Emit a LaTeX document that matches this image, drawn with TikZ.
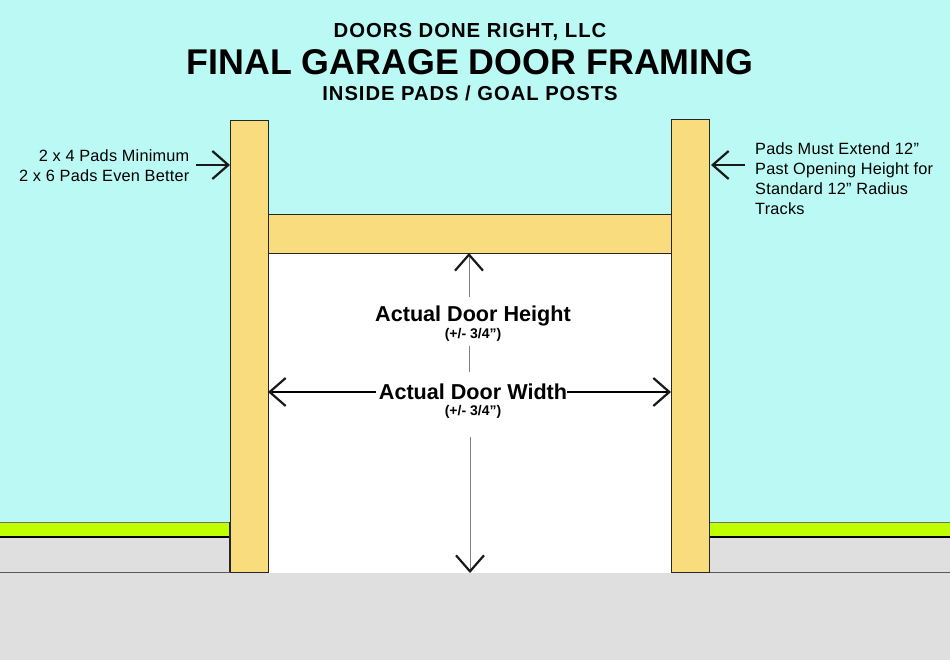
\documentclass[tikz,border=0pt]{standalone}
\usepackage{fontspec}
\setmainfont{Liberation Sans}
\usetikzlibrary{arrows.meta,positioning}
\definecolor{SkyBlue}{HTML}{BAF9F4}
\definecolor{PadYellow}{HTML}{F8DC7E}
\definecolor{CurbGreen}{HTML}{C0FF00}
\definecolor{SlabGray}{HTML}{DFDFDF}
\tikzset{
	block/.style={anchor=north west,inner sep=0pt,outer sep=0pt,minimum width=#1},
	pad/.style={draw=black!85,line width=.9pt,fill=PadYellow},
	barb/.style={-{Straight Barb[length=16pt,width=28pt,line width=2.2pt,color=black!90]}},
	pointer/.style={barb,line width=2.6pt,draw=black!90},
	dimwide/.style={barb,line width=2pt,draw=black},
	dimtall/.style={barb,line width=.9pt,draw=black!50},
	dimseg/.style={line width=.9pt,draw=black!50},
	title/.style={align=center,inner sep=0pt,font=\bfseries\fontsize{#1}{#1}\selectfont},
	subtitle/.style={align=center,inner sep=0pt,font=\bfseries\fontsize{#1}{#1}\selectfont\addfontfeature{LetterSpace=4.8}},
	note/.style={inner sep=0pt,font=\fontsize{16.3}{20.2}\selectfont\addfontfeature{LetterSpace=1.3}},
}
\begin{document}
\begin{tikzpicture}[x=1pt,y=-1pt]
	\useasboundingbox (0,0) rectangle (950,660);
	% ground and wall
	\fill[SkyBlue] (0,0) rectangle (950,522);
	\fill[SlabGray] (0,537) rectangle (950,660);
	\fill[CurbGreen] (0,522) rectangle (950,537);
	\draw[black!55,line width=.8pt] (0,522) -- (950,522);
	\draw[black,line width=1.8pt] (0,537) -- (950,537);
	\draw[black!65,line width=1pt] (0,572) -- (950,572);
	\fill[white] (268,253) rectangle (671,573);
	\fill[SlabGray] (230,573) rectangle (710,660);
	\draw[black!85,line width=1.6pt] (229.5,522) -- (229.5,572);
	% framing
	\node[block=38pt,minimum height=452pt,pad] (padL) at (230,120) {};
	\node[block=38pt,minimum height=453pt,pad] (padR) at (671,119) {};
	\node[block=403pt,minimum height=39pt,pad] (header) at (268,214) {};
	% heading
	\node[subtitle=20.3] (company) at (470,31.5) {DOORS DONE RIGHT, LLC};
	\node[title=35.8] (heading) at (470,62) {FINAL GARAGE DOOR FRAMING};
	\node[subtitle=20.2] (subhead) at (470,93) {INSIDE PADS / GOAL POSTS};
	% notes
	\node[note,align=right,anchor=east] (noteL) at (189.5,165.5) {2 x 4 Pads Minimum\\2 x 6 Pads Even Better};
	\node[note,align=left,anchor=west] (noteR) at (755,178.5) {Pads Must Extend 12”\\Past Opening Height for\\Standard 12” Radius\\Tracks};
	\coordinate (noteLend) at (196,165);
	\coordinate (noteRend) at (745,165);
	\draw[pointer] (noteLend) -- (padL.west |- noteLend);
	\draw[pointer,shorten >=2pt] (noteRend) -- (padR.east |- noteRend);
	% door size
	\node[title=21.6] (heightlbl) at (473,316) {Actual Door Height};
	\node[title=14] (heighttol) at (473,335) {(+/- 3/4”)};
	\node[title=21.6] (widthlbl) at (473,392) {Actual Door Width};
	\node[title=14] (widthtol) at (473,412) {(+/- 3/4”)};
	\coordinate (heighttop) at (469,297);
	\coordinate (segtop) at (469,346);
	\coordinate (segend) at (469,372);
	\coordinate (heightbot) at (470,437);
	\coordinate (doorbot) at (470,573);
	\draw[dimtall] (heighttop) -- (heighttop |- header.south);
	\draw[dimseg] (segtop) -- (segend);
	\draw[dimtall] (heightbot) -- (doorbot);
	\draw[dimwide] ([xshift=-3pt]widthlbl.west) -- (padL.east |- widthlbl);
	\draw[dimwide] (widthlbl.east) -- (padR.west |- widthlbl);
\end{tikzpicture}
\end{document}
